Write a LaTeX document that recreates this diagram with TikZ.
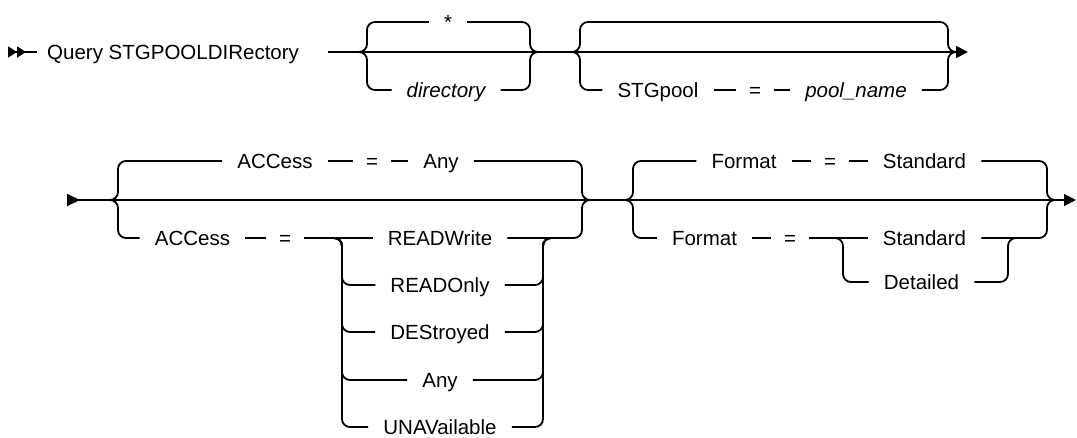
\documentclass[tikz,border=0pt]{standalone}
\usepackage{fontspec}
\setmainfont{Liberation Sans}
\usepackage{tikz}
\usetikzlibrary{arrows.meta, positioning}
\tikzset{
    synWord/.style={
        inner xsep=15pt,
        inner ysep=0pt,
        text height=14.7pt,
        text depth=0pt,
        font=\fontsize{20.5}{24}\selectfont
    },
    synVar/.style={
        synWord,
        font=\fontsize{20.5}{24}\selectfont\itshape
    },
    synEq/.style={
        synWord,
        inner xsep=13pt
    },
    synRail/.style={
        line width=1.8pt,
        rounded corners=8pt
    }
}

\begin{document}
\begin{tikzpicture}[x=1pt, y=-1pt, >={Triangle[length=12pt, width=12pt]}]
            \useasboundingbox (0,0) rectangle (1077,437);

            % Coordinates (first line)
            \coordinate (r1Start) at (8,52);
            \coordinate (r1Lead) at (37,52);
            \coordinate (r1In) at (328,52);
            \coordinate (g1L) at (360,52);
            \coordinate (g1R) at (537,52);
            \coordinate (g2L) at (572,52);
            \coordinate (g2Top) at (760,22);
            \coordinate (g2R) at (956,52);
            \coordinate (r1End) at (968,52);

            % Coordinates (second line)
            \coordinate (r2Start) at (67,200);
            \coordinate (r2End) at (1076,200);
            \coordinate (gAL) at (110,200);
            \coordinate (gAR) at (590,200);
            \coordinate (nAL) at (334,238);
            \coordinate (nAR) at (551,238);
            \coordinate (gBL) at (625,200);
            \coordinate (gBR) at (1055,200);
            \coordinate (nBL) at (835,238);
            \coordinate (nBR) at (1016,238);

            % Command
            \node[synWord, anchor=west, inner xsep=0pt] (cmd) at (47,52) {Query STGPOOLDIRectory};
            \draw[synRail, {Triangle[reversed, length=9pt, width=11pt]Triangle[reversed, length=9pt, width=11pt]}-] (r1Start) -- (r1Lead);
            \draw[synRail, ->] (r1In) -- (r1End);

            % directory
            \node[synWord] (dirStar) at (448,22) {*};
            \node[synVar] (dirName) at (446,90) {directory};
            \draw[synRail] (g1L) -- ++(7,0) |- (dirStar.west);
            \draw[synRail] (dirStar.east) -| ([xshift=-7pt]g1R) -- (g1R);
            \draw[synRail] (g1L) -- ++(7,0) |- (dirName.west);
            \draw[synRail] (dirName.east) -| ([xshift=-7pt]g1R) -- (g1R);

            % STGpool
            \node[synWord] (stgKey) at (658,90) {STGpool};
            \node[synEq] (stgEq) at (755,90) {=};
            \node[synVar] (poolName) at (856,90) {pool\_name};
            \draw[synRail] (g2L) -- ++(8,0) |- (g2Top) -| ([xshift=-8pt]g2R) -- (g2R);
            \draw[synRail] (g2L) -- ++(8,0) |- (stgKey.west);
            \draw[synRail] (stgKey) -- (stgEq);
            \draw[synRail] (stgEq) -- (poolName);
            \draw[synRail] (poolName.east) -| ([xshift=-8pt]g2R) -- (g2R);

            % Main line (second line)
            \draw[synRail, {Triangle[reversed, length=13pt, width=12pt]}->] (r2Start) -- (r2End);

            % ACCess
            \node[synWord] (accTop) at (275,161) {ACCess};
            \node[synEq] (accTopEq) at (372,161) {=};
            \node[synWord] (accTopAny) at (441,161) {Any};
            \draw[synRail] (gAL) -- ++(8,0) |- (accTop.west);
            \draw[synRail] (accTop) -- (accTopEq);
            \draw[synRail] (accTopEq) -- (accTopAny);
            \draw[synRail] (accTopAny.east) -| ([xshift=-8pt]gAR) -- (gAR);

            \node[synWord] (accBot) at (192.5,238) {ACCess};
            \node[synEq] (accBotEq) at (285,238) {=};
            \node[synWord] (rwKey) at (440,238) {READWrite};
            \draw[synRail] (gAL) -- ++(8,0) |- (accBot.west);
            \draw[synRail] (accBot) -- (accBotEq);
            \draw[synRail] (accBotEq) -- (rwKey);
            \draw[synRail] (rwKey.east) -| ([xshift=-8pt]gAR) -- (gAR);
            \foreach \n/\y/\t in {roKey/285/READOnly, deKey/332/DEStroyed, anKey/380/Any, unKey/427/UNAVailable} {
                \node[synWord] (\n) at (440,\y) {\t};
                \draw[synRail] (nAL) -- ++(8,0) |- (\n.west);
                \draw[synRail] (\n.east) -| ([xshift=-8pt]nAR) -- (nAR);
            }

            % Format
            \node[synWord] (fmtTop) at (744,161) {Format};
            \node[synEq] (fmtTopEq) at (830,161) {=};
            \node[synWord] (fmtTopStd) at (924.5,161) {Standard};
            \draw[synRail] (gBL) -- ++(8,0) |- (fmtTop.west);
            \draw[synRail] (fmtTop) -- (fmtTopEq);
            \draw[synRail] (fmtTopEq) -- (fmtTopStd);
            \draw[synRail] (fmtTopStd.east) -| ([xshift=-8pt]gBR) -- (gBR);

            \node[synWord] (fmtBot) at (704.5,238) {Format};
            \node[synEq] (fmtBotEq) at (790,238) {=};
            \node[synWord] (stdKey) at (924.5,238) {Standard};
            \node[synWord] (dtKey) at (921.5,282) {Detailed};
            \draw[synRail] (gBL) -- ++(8,0) |- (fmtBot.west);
            \draw[synRail] (fmtBot) -- (fmtBotEq);
            \draw[synRail] (fmtBotEq) -- (stdKey);
            \draw[synRail] (stdKey.east) -| ([xshift=-8pt]gBR) -- (gBR);
            \draw[synRail] (nBL) -- ++(8,0) |- (dtKey.west);
            \draw[synRail] (dtKey.east) -| ([xshift=-8pt]nBR) -- (nBR);
        \end{tikzpicture}
\end{document}
